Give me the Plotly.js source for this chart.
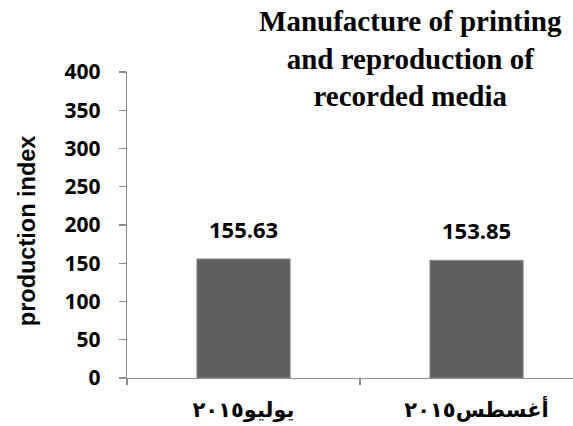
<!DOCTYPE html>
<html>
<head>
<meta charset="utf-8">
<script src="https://cdn.plot.ly/plotly-3.0.1.min.js"></script>
<style>html,body{margin:0;padding:0;background:#fff;}#chart{width:573px;height:426px;}</style>
</head>
<body>
<div id="chart"></div>
<script>
const categories = ["يوليو٢٠١٥", "أغسطس٢٠١٥"];
const values = [155.63, 153.85];
const valueLabels = ["155.63", "153.85"];
const yTicks = [0, 50, 100, 150, 200, 250, 300, 350, 400];
const chartTitle = "Manufacture of printing<br>and reproduction of<br>recorded media";
const yTitle = "production index";

const trace = {
  type: "bar",
  x: categories,
  y: values,
  width: 0.4,
  marker: {color: "#606060", line: {color: "#8c8c8c", width: 1}},
  hoverinfo: "none"
};

const annotations = categories.map((c, i) => ({
  x: c, y: values[i], xref: "x", yref: "y",
  text: valueLabels[i], showarrow: false,
  yanchor: "bottom", yshift: 13,
  font: {family: "Open Sans", size: 22, weight: "bold", color: "#000"}
}));

annotations.push({
  text: yTitle, textangle: -90, showarrow: false,
  xref: "paper", yref: "paper",
  x: -0.224, y: 0.48, xanchor: "center", yanchor: "middle",
  font: {family: "Liberation Sans", size: 23.5, weight: "bold", color: "#000"}
});

const layout = {
  width: 573, height: 426,
  margin: {l: 127, r: 0, t: 72, b: 48, pad: 0},
  paper_bgcolor: "#fff", plot_bgcolor: "#fff",
  showlegend: false,
  title: {
    text: chartTitle,
    x: 0.716, xref: "container", xanchor: "center",
    y: 0.927, yref: "container", yanchor: "top",
    font: {family: "Liberation Serif", size: 29, weight: "bold", color: "#000"}
  },
  xaxis: {
    type: "category",
    range: [-0.5, 1.414],
    showline: true, linecolor: "#8c8c8c", linewidth: 1.3,
    ticks: "outside", tickson: "boundaries", ticklen: 6, tickcolor: "#8c8c8c", tickwidth: 1.3,
    showgrid: false, zeroline: false,
    tickfont: {family: "Liberation Serif, DejaVu Sans", size: 21, weight: "bold", color: "#000"},
    ticklabelstandoff: 12
  },
  yaxis: {
    range: [0, 400],
    tickvals: yTicks,
    ticktext: yTicks.map(String),
    showline: true, linecolor: "#8c8c8c", linewidth: 1.3,
    ticks: "outside", ticklen: 7, tickcolor: "#8c8c8c", tickwidth: 1.3,
    showgrid: false, zeroline: false,
    tickfont: {family: "Open Sans", size: 21, weight: "bold", color: "#000"},
    ticklabelstandoff: 14
  },
  annotations: annotations
};

Plotly.newPlot("chart", [trace], layout, {staticPlot: true, displayModeBar: false});
</script>
</body>
</html>
